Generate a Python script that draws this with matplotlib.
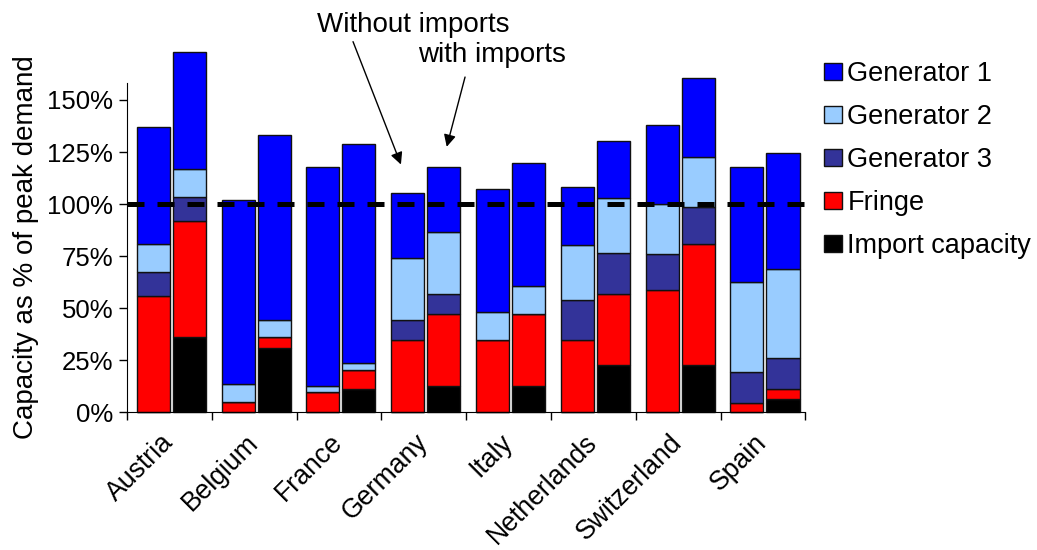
import matplotlib
matplotlib.use('Agg')
import matplotlib.pyplot as plt
import numpy as np

plt.rcParams['font.family'] = ['Liberation Sans', 'DejaVu Sans']

countries = ['Austria', 'Belgium', 'France', 'Germany', 'Italy',
             'Netherlands', 'Switzerland', 'Spain']

# capacity as % of peak demand
fringe = [56, 5, 9.5, 34.5, 34.5, 34.5, 58.5, 4.5]
gen3 = [11.5, 0, 0, 10, 0, 19.5, 17.5, 15]
gen2 = [13.5, 8.5, 3, 29.5, 13.5, 26.5, 24, 43]
gen1 = [56, 88.5, 105.5, 31.5, 59, 27.5, 38, 55.5]
imports = [36, 31, 11, 12.5, 12.5, 22.5, 22.5, 6.5]

series = ['Import capacity', 'Fringe', 'Generator 3', 'Generator 2', 'Generator 1']
colors = ['#000000', '#ff0000', '#333399', '#99ccff', '#0000ff']

fig = plt.figure(figsize=(10.37, 5.5), dpi=100)
ax = fig.add_axes([0.1225, 0.2504, 0.6542, 0.5993])

x = np.arange(len(countries))
w = 0.39
x_wo = x + 0.31
x_w = x + 0.735

without = [np.zeros(len(countries)), fringe, gen3, gen2, gen1]
with_imp = [imports, fringe, gen3, gen2, gen1]

handles = []
for xs, stack in ((x_wo, without), (x_w, with_imp)):
    bottom = np.zeros(len(countries))
    for vals, c, name in zip(stack, colors, series):
        vals = np.asarray(vals, dtype=float)
        b = ax.bar(xs, vals, w, bottom=bottom, color=c, edgecolor='#111111',
                   lw=1.0, clip_on=False, label=name)
        bottom += vals
        if xs is x_w:
            handles.append(b)

# 100% of peak demand
ax.axhline(100, color='black', lw=3.6, ls=(0, (3.4, 2.6)), zorder=5, clip_on=False)

ax.set_xlim(0, 8)
ax.set_ylim(0, 158.3)
ax.set_yticks([0, 25, 50, 75, 100, 125, 150])
ax.set_yticklabels([f'{v}%' for v in [0, 25, 50, 75, 100, 125, 150]])
ax.tick_params(axis='y', labelsize=18.5, length=6, width=1, pad=4)

ax.set_xticks(np.arange(9))
ax.set_xticklabels([])
ax.tick_params(axis='x', which='major', length=6, width=1)
ax.set_xticks(x + 0.5, minor=True)
ax.set_xticklabels(countries, minor=True, rotation=45, ha='right',
                   rotation_mode='anchor', va='center', fontsize=19.2)
ax.tick_params(axis='x', which='minor', length=0, pad=19)

for s in ('top', 'right'):
    ax.spines[s].set_visible(False)
ax.set_ylabel('Capacity as % of peak demand', fontsize=20, labelpad=6)

ax.text(3.38, 182.7, 'Without imports', ha='center', va='baseline', fontsize=20)
ax.text(4.30, 168.3, 'with imports', ha='center', va='baseline', fontsize=20)
arrow = dict(arrowstyle='-|>', color='black', lw=1.0, mutation_scale=18,
             shrinkA=0, shrinkB=0)
ax.annotate('', xy=(3.23, 119.0), xytext=(2.665, 178.0), arrowprops=arrow,
            annotation_clip=False)
ax.annotate('', xy=(3.77, 127.5), xytext=(3.986, 161.0), arrowprops=arrow,
            annotation_clip=False)

fig.legend(handles=handles[::-1], labels=series[::-1], loc='upper left',
           bbox_to_anchor=(0.795, 0.889), frameon=False, fontsize=19.5,
           handlelength=0.65, handleheight=0.6, handletextpad=0.2,
           labelspacing=0.63, borderpad=0, borderaxespad=0)

fig.savefig('out.png', dpi=100)
